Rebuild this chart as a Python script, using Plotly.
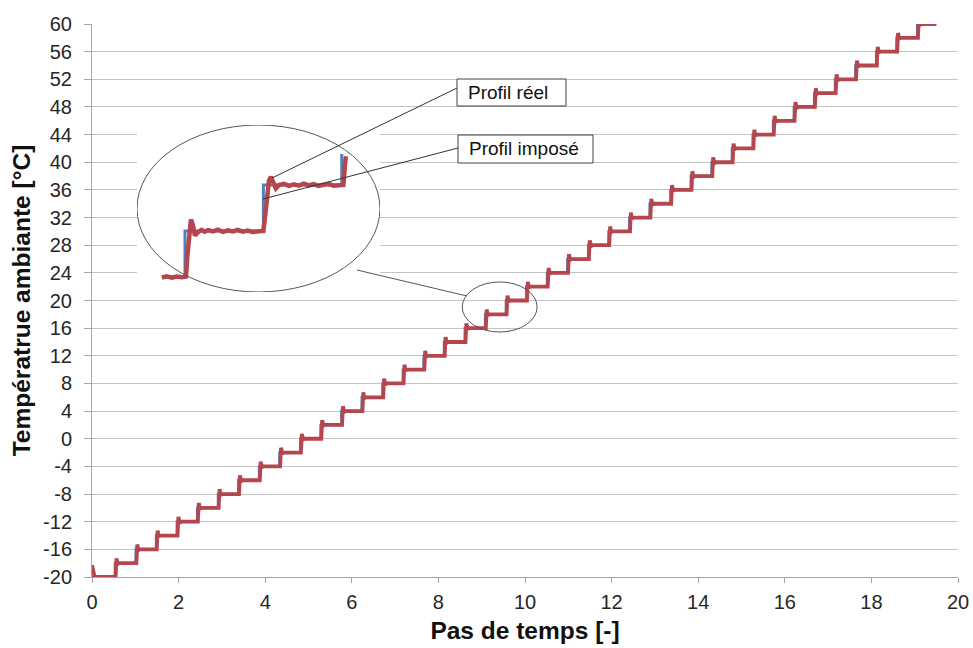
import plotly.graph_objects as go

# ---------------- data ----------------
x_ticks = list(range(0, 21, 2))
y_ticks = list(range(-20, 61, 4))
y_tick_labels = ["-20", "-16", "-12", "-8", "-4", "0", "4", "8", "12", "16", "20",
                 "24", "28", "32", "36", "40", "44", "48", "52", "56", "60"]

step_times = [0.53, 1.01, 1.48, 1.96, 2.43, 2.91, 3.38, 3.86, 4.33, 4.81,
              5.28, 5.76, 6.23, 6.71, 7.18, 7.66, 8.13, 8.61, 9.08, 9.56,
              10.03, 10.51, 10.98, 11.46, 11.93, 12.41, 12.88, 13.36, 13.83, 14.31,
              14.78, 15.26, 15.73, 16.21, 16.68, 17.16, 17.63, 18.11, 18.58, 19.06]
step_levels = [-18, -16, -14, -12, -10, -8, -6, -4, -2, 0,
               2, 4, 6, 8, 10, 12, 14, 16, 18, 20,
               22, 24, 26, 28, 30, 32, 34, 36, 38, 40,
               42, 44, 46, 48, 50, 52, 54, 56, 58, 60]
start_time, start_level = 0.0, -20
end_time = 19.5

# measured response of the real profile after each set-point change
start_real_t = [0.0, 0.03, 0.06]
start_real_y = [-18.3, -19.5, -20.0]
resp_dt = [0.015, 0.025, 0.035, 0.05, 0.07, 0.10]
resp_dy = [-2.0, -0.9, 0.7, 0.3, -0.1, 0.0]

# zoomed detail (inset)
inset_imp_t = [8.94, 9.08, 9.555, 10.03]
inset_imp_y = [16, 18, 20, 21.35]
inset_real_t = [8.94, 8.97, 9.00, 9.03, 9.06, 9.086, 9.094, 9.104, 9.116, 9.128,
                9.14, 9.159, 9.18, 9.20, 9.22, 9.25, 9.28, 9.31, 9.34, 9.37,
                9.40, 9.43, 9.46, 9.49, 9.52, 9.555, 9.565, 9.577, 9.589, 9.601,
                9.613, 9.631, 9.65, 9.68, 9.71, 9.74, 9.77, 9.80, 9.83, 9.86,
                9.89, 9.92, 9.95, 9.98, 10.01, 10.04, 10.05, 10.055]
inset_real_y = [15.98, 16.03, 15.97, 16.02, 15.99, 16.02, 16.9, 17.8, 18.5, 18.25,
                17.8, 17.95, 18.05, 17.97, 18.04, 17.98, 18.06, 17.96, 18.03, 17.98,
                18.05, 17.97, 18.02, 17.96, 18.0, 18.0, 18.6, 19.6, 20.2, 20.35,
                20.15, 19.85, 20.0, 20.05, 19.96, 20.03, 19.97, 20.06, 19.98, 20.04,
                19.96, 20.02, 20.05, 19.97, 20.0, 20.0, 20.9, 21.25]

# ---------------- build traces ----------------
imp_x = [start_time] + step_times + [end_time]
imp_y = [start_level] + step_levels + [step_levels[-1]]

real_x = list(start_real_t)
real_y = list(start_real_y)
for t, lvl in zip(step_times, step_levels):
    for dt, dy in zip(resp_dt, resp_dy):
        real_x.append(t + dt)
        real_y.append(lvl + dy)
real_x.append(end_time)
real_y.append(step_levels[-1])

RED = "#b5464d"
BLUE = "#4f81bd"
FONT = "Liberation Sans, Arial, sans-serif"

fig = go.Figure()
fig.add_trace(go.Scatter(x=imp_x, y=imp_y, mode="lines", line=dict(color=BLUE, width=2.5, shape="hv"),
                         showlegend=False, hoverinfo="skip"))
fig.add_trace(go.Scatter(x=real_x, y=real_y, mode="lines", line=dict(color=RED, width=3.8),
                         showlegend=False, hoverinfo="skip"))
fig.add_trace(go.Scatter(x=inset_imp_t, y=inset_imp_y, mode="lines", xaxis="x2", yaxis="y2",
                         line=dict(color=BLUE, width=3, shape="hv"), showlegend=False, hoverinfo="skip"))
fig.add_trace(go.Scatter(x=inset_real_t, y=inset_real_y, mode="lines", xaxis="x2", yaxis="y2",
                         line=dict(color=RED, width=4.5), showlegend=False, hoverinfo="skip"))

# pixel -> paper helpers (plot area 92..958 x 24..577)
def px(p):
    return (p - 92) / 866.0

def py(p):
    return (577 - p) / 553.0

shapes = [
    dict(type="circle", xref="x2", yref="y2", x0=8.789, x1=10.262, y0=15.348, y1=22.609,
         line=dict(color="#555555", width=1)),
    dict(type="circle", xref="x", yref="y", x0=8.55, x1=10.28, y0=15.44, y1=22.68,
         line=dict(color="#555555", width=1)),
    dict(type="line", xref="paper", yref="paper", x0=px(357), y0=py(270), x1=px(467), y1=py(296),
         line=dict(color="#555555", width=1)),
    dict(type="line", xref="paper", yref="paper", x0=px(457), y0=py(88), x1=px(272), y1=py(178),
         line=dict(color="#333333", width=1)),
    dict(type="line", xref="paper", yref="paper", x0=px(458), y0=py(148), x1=px(263), y1=py(199),
         line=dict(color="#333333", width=1)),
    dict(type="rect", xref="paper", yref="paper", x0=px(457), x1=px(566), y0=py(106), y1=py(79),
         fillcolor="white", line=dict(color="#404040", width=1)),
    dict(type="rect", xref="paper", yref="paper", x0=px(458), x1=px(593), y0=py(163), y1=py(135),
         fillcolor="white", line=dict(color="#404040", width=1)),
]

annotations = [
    dict(text="Profil réel", xref="paper", yref="paper", x=px(466), y=py(92.5), xanchor="left",
         yanchor="middle", showarrow=False, font=dict(family=FONT, size=19, color="#111111")),
    dict(text="Profil imposé", xref="paper", yref="paper", x=px(467), y=py(149), xanchor="left",
         yanchor="middle", showarrow=False, font=dict(family=FONT, size=19, color="#111111")),
]

fig.update_layout(
    width=973, height=648,
    margin=dict(l=92, r=15, t=24, b=71),
    paper_bgcolor="white", plot_bgcolor="white",
    font=dict(family=FONT, color="#262626"),
    shapes=shapes, annotations=annotations,
    xaxis=dict(range=[0, 20], tickvals=x_ticks, showgrid=False, zeroline=False,
               showline=True, linecolor="#a6a6a6", linewidth=1, automargin=False,
               ticks="outside", ticklen=5, tickcolor="#a6a6a6", ticklabelstandoff=2,
               ticklabeloverflow="allow",
               tickfont=dict(size=20, family=FONT, color="#262626"),
               title=dict(text="Pas de temps [-]", standoff=9,
                          font=dict(size=24.5, family=FONT, weight="bold", color="#111111"))),
    yaxis=dict(range=[-20, 60], tickvals=y_ticks, ticktext=y_tick_labels,
               showgrid=True, gridcolor="#c4c4c4", gridwidth=1, automargin=False,
               zeroline=False, showline=True, linecolor="#a6a6a6", linewidth=1,
               ticks="outside", ticklen=7, tickcolor="#a6a6a6", ticklabelstandoff=8,
               ticklabeloverflow="allow",
               tickfont=dict(size=20, family=FONT, color="#262626"),
               title=dict(text="Températrue ambiante [°C]", standoff=5,
                          font=dict(size=24.5, family=FONT, weight="bold", color="#111111"))),
    xaxis2=dict(domain=[px(137), px(380)], range=[8.789, 10.262], visible=False, anchor="y2"),
    yaxis2=dict(domain=[py(292), py(125)], range=[15.348, 22.609], visible=False, anchor="x2"),
)

fig.write_html("out.html", config={"displayModeBar": False},
               post_script="document.body.style.margin='0';document.body.style.overflow='hidden';")
